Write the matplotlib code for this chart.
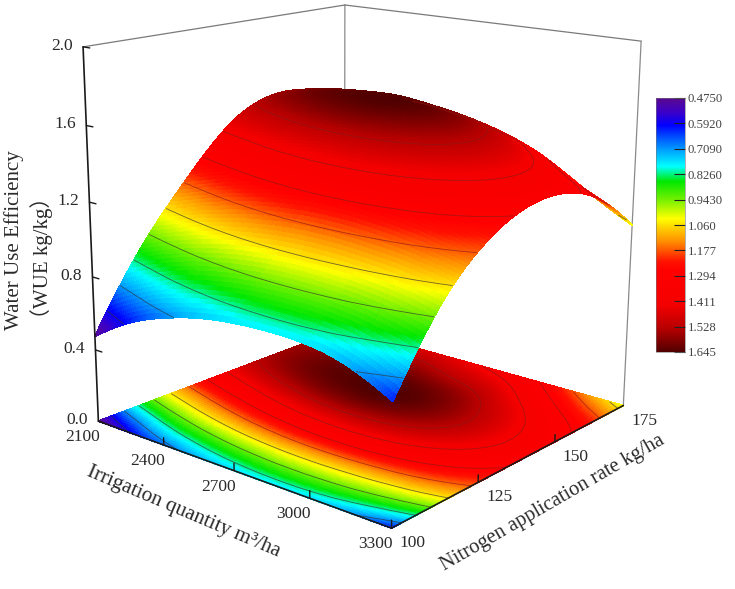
import numpy as np
import matplotlib
matplotlib.use('Agg')
import matplotlib.pyplot as plt
import matplotlib.tri as mtri
from matplotlib.cm import ScalarMappable
from matplotlib.colors import LinearSegmentedColormap, Normalize
from mpl_toolkits.mplot3d import proj3d
from mpl_toolkits.mplot3d.art3d import Poly3DCollection

irrigation = [2100, 2250, 2400, 2550, 2700, 2850, 3000, 3150, 3300]
nitrogen = [100, 112.5, 125, 137.5, 150, 162.5, 175]

# WUE, one row per nitrogen rate
wue = [
    [0.475, 0.60, 0.684, 0.74, 0.77, 0.78, 0.77, 0.72, 0.62],
    [0.873, 0.942, 0.996, 1.033, 1.054, 1.059, 1.049, 1.025, 0.98],
    [1.176, 1.233, 1.285, 1.323, 1.342, 1.339, 1.313, 1.267, 1.204],
    [1.427, 1.48, 1.525, 1.553, 1.558, 1.535, 1.484, 1.409, 1.314],
    [1.55, 1.60, 1.63, 1.645, 1.64, 1.598, 1.523, 1.427, 1.323],
    [1.54, 1.575, 1.59, 1.59, 1.56, 1.52, 1.434, 1.326, 1.226],
    [1.42, 1.46, 1.47, 1.46, 1.42, 1.37, 1.27, 1.14, 1.02],
]

x_ticks = [2100, 2400, 2700, 3000, 3300]
y_ticks = [100, 125, 150, 175]
z_ticks = [0.0, 0.4, 0.8, 1.2, 1.6, 2.0]
bar_ticks = [0.475, 0.592, 0.709, 0.826, 0.943, 1.06, 1.177, 1.294, 1.411, 1.528, 1.645]
bar_labels = ['0.4750', '0.5920', '0.7090', '0.8260', '0.9430', '1.060',
              '1.177', '1.294', '1.411', '1.528', '1.645']

plt.rcParams['font.family'] = ['Liberation Serif', 'Noto Sans CJK SC']
INK = '#2a2a2a'
ELEV, AZIM, ROLL = 15.6564, -50.1925, -0.268

vmin, vmax = bar_ticks[0], bar_ticks[-1]
norm = Normalize(vmin, vmax)
stops = [(0.475, '#5a0a8e'), (0.54, '#3c00c8'), (0.60, '#0000ff'), (0.66, '#0058ff'),
         (0.72, '#00a8ff'), (0.79, '#00ffff'), (0.86, '#00e800'), (0.94, '#70f000'),
         (1.03, '#ffff00'), (1.135, '#ff9000'), (1.23, '#ff1000'), (1.27, '#ff0000'),
         (1.43, '#f40000'), (1.54, '#b40000'), (1.645, '#500000')]
cmap = LinearSegmentedColormap.from_list(
    'wue', [(norm(v), c) for v, c in stops], N=512)

fig = plt.figure(figsize=(7.35, 5.89), dpi=100)
ax = fig.add_axes([-0.0138, 0.0888, 1, 1], projection='3d', computed_zorder=False)
ax.set_proj_type('persp', focal_length=0.5305)
ax.view_init(elev=ELEV, azim=AZIM, roll=ROLL)
ax.set_box_aspect((0.997, 1, 0.9961), zoom=1.0955)
ax.set_xlim(2100, 3300)
ax.set_ylim(100, 175)
ax.set_zlim(0, 2)
ax.set_axis_off()

# smooth the response grid with a cubic triangulated interpolator
xg, yg = np.meshgrid(irrigation, nitrogen)
zg = np.array(wue)
tri = mtri.Triangulation((xg.ravel() - 2100) / 1200, (yg.ravel() - 100) / 75)
interp = mtri.CubicTriInterpolator(tri, zg.ravel())
fine, zf = mtri.UniformTriRefiner(tri).refine_field(zg.ravel(), interp, subdiv=4)
xf = fine.x * 1200 + 2100
yf = fine.y * 75 + 100
cells = fine.triangles
face_z = zf[cells].mean(axis=1)
face_c = cmap(norm(face_z))

base = Poly3DCollection(np.stack([xf[cells], yf[cells], 0 * zf[cells]], axis=-1),
                        facecolors=face_c, edgecolors=face_c, linewidths=0.5,
                        antialiased=False, zorder=2)
ax.add_collection3d(base, autolim=False)
top = Poly3DCollection(np.stack([xf[cells], yf[cells], zf[cells]], axis=-1),
                       facecolors=face_c, edgecolors=face_c, linewidths=0.5,
                       antialiased=False, zorder=4)
ax.add_collection3d(top, autolim=False)

# contour lines fade into the red part of the scale
levels = bar_ticks[1:-1]
line_colors = ['#333333'] * 5 + ['#8a1a1a'] * 4
flat = mtri.Triangulation(xf, yf, cells)
ax.tricontour(flat, zf, levels=levels, colors=line_colors, linewidths=0.6, alpha=0.7,
              zdir='z', offset=0, zorder=3)

# contours on the surface only where it faces the viewer
p0 = np.c_[fine.x, fine.y, zf / 2][cells]
normal = np.cross(p0[:, 1] - p0[:, 0], p0[:, 2] - p0[:, 0])
normal *= np.sign(normal[:, 2])[:, None]
el, az = np.radians(ELEV), np.radians(AZIM)
view = np.array([np.cos(el) * np.cos(az), np.cos(el) * np.sin(az), np.sin(el)])
shown = mtri.Triangulation(xf, yf, cells, mask=normal @ view < 0)
ax.tricontour(shown, zf, levels=levels, colors=line_colors, linewidths=0.6, alpha=0.7, zorder=5)


def edge(a, b, color, lw, zorder):
    ax.plot(*zip(a, b), color=color, lw=lw, zorder=zorder, solid_capstyle='round')


x0, x1, y0, y1, z1 = 2100, 3300, 100, 175, 2
# back frame in grey, front edges and the value axis in black
edge((x0, y1, 0), (x0, y1, z1), '#8a8a8a', 0.9, 1)
edge((x0, y0, z1), (x0, y1, z1), '#7a7a7a', 0.9, 1)
edge((x0, y1, z1), (x1, y1, z1), '#7a7a7a', 0.9, 1)
edge((x1, y1, 0), (x1, y1, z1), '#8a8a8a', 0.9, 1)
edge((x0, y0, 0), (x0, y0, z1), '#1a1a1a', 1.2, 6)
edge((x0, y0, 0), (x1, y0, 0), '#1a1a1a', 1.2, 6)
edge((x1, y0, 0), (x1, y1, 0), '#1a1a1a', 1.2, 6)

M = ax.get_proj()


def label(x, y, z, text, dx, dy):
    px, py, _ = proj3d.proj_transform(x, y, z, M)
    ax.annotate(text, (px, py), xytext=(dx, dy), textcoords='offset pixels',
                ha='center', va='center', fontsize=12.5, color=INK)


for v in x_ticks:
    if v != x0:
        edge((v, y0, 0), (v, y0, 0.04), '#1a1a1a', 1.0, 6)
    label(v, y0, 0, str(v), -16, -16)
for v in y_ticks:
    if v not in (y0, y1):
        edge((x1, v, 0), (x1, v, 0.04), '#1a1a1a', 1.0, 6)
    label(x1, v, 0, str(v), 21, -15)
for v in z_ticks:
    edge((x0, y0, v), (x0 + 30, y0, v), '#1a1a1a', 1.0, 6)
    label(x0, y0, v, '%.1f' % v, -21, 1)

fig.text(14 / 735, 1 - 240 / 589, 'Water Use Efficiency', rotation=90, ha='center', va='center',
         fontsize=15, color=INK)
fig.text(42 / 735, 1 - 258 / 589, '（WUE kg/kg）', rotation=90, ha='center', va='center',
         fontsize=15, color=INK)
fig.text(184 / 735, 1 - 512 / 589, 'Irrigation quantity m³/ha', rotation=-23, ha='center', va='center',
         rotation_mode='anchor', fontsize=15.2, color=INK)
fig.text(553 / 735, 1 - 503 / 589, 'Nitrogen application rate kg/ha', rotation=30, ha='center', va='center',
         rotation_mode='anchor', fontsize=14.8, color=INK)

cax = fig.add_axes([656 / 735, 1 - 352 / 589, 29 / 735, 254 / 589])
cb = fig.colorbar(ScalarMappable(norm, cmap), cax=cax)
cb.set_ticks(bar_ticks, labels=bar_labels)
cb.minorticks_off()
cax.invert_yaxis()
cax.tick_params(direction='in', length=8, width=0.8, color='#222222', labelsize=9.2,
                labelcolor='#444444', pad=2)
cb.outline.set_linewidth(0.4)
cb.outline.set_edgecolor('#777777')

fig.savefig('out.png', dpi=100)
